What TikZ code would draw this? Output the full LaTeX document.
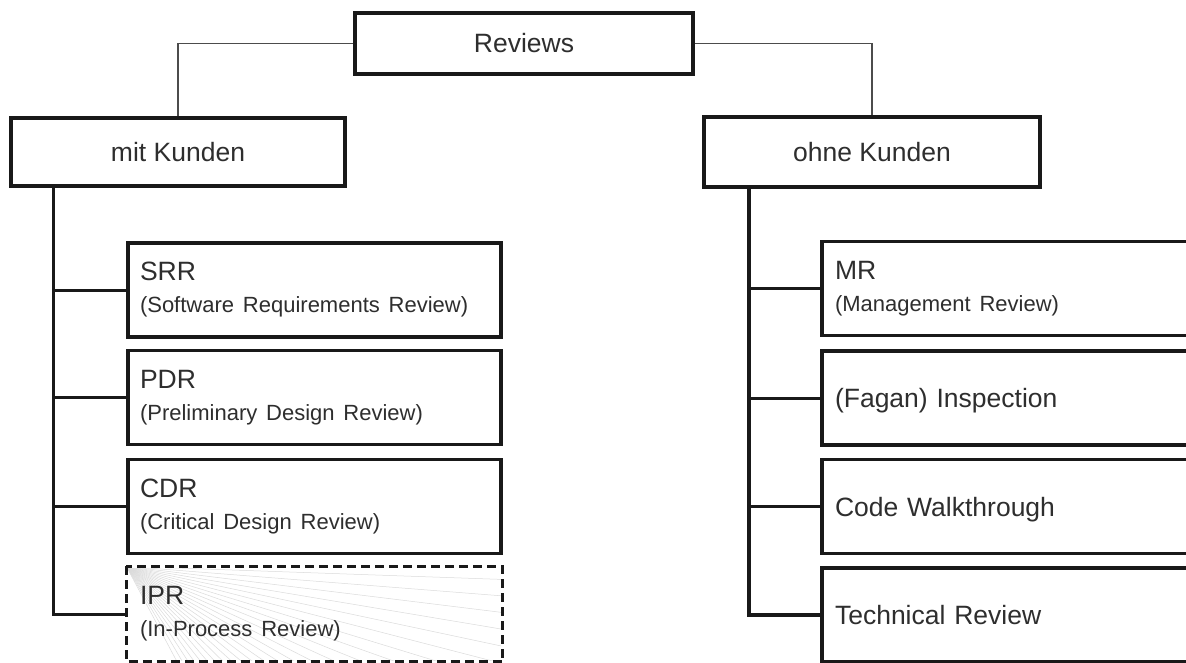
\documentclass[tikz,border=0pt]{standalone}
\usepackage{fontspec}
\setmainfont{Liberation Sans}
\newcommand\rvsub{\fontsize{22}{32}\selectfont}
\begin{document}
\begin{tikzpicture}[x=1pt,y=-1pt,
  box/.style={draw=black!90, line width=3.4pt, fill=white, inner sep=0pt, text=black!82,
              font=\fontsize{26.5}{32}\selectfont},
  leftbox/.style={box, minimum width=373pt, minimum height=94pt, text width=349pt, align=left},
  rightbox/.style={box, minimum width=408pt, minimum height=94pt, text width=382pt, align=left},
  oneline/.style={text height=19pt, text depth=0pt},
  topline/.style={draw=black!70, line width=1.4pt},
  trunkL/.style={draw=black!90, line width=3pt},
  trunkR/.style={draw=black!90, line width=3.8pt},
  branch/.style={draw=black!90, line width=3pt}]
\clip (0,0) rectangle (1186,663);
\fill[white] (0,0) rectangle (1186,663);

\node[box, minimum width=338pt, minimum height=61pt, oneline] (rev) at (524,43.5) {Reviews};
\node[box, minimum width=334pt, minimum height=68pt, oneline] (mit) at (178,152) {mit Kunden};
\node[box, minimum width=336pt, minimum height=70pt, oneline] (ohne) at (872,152) {ohne Kunden};

% connectors from the root
\draw[topline] (rev.west) -| (mit.north);
\draw[topline] (rev.east) -| (ohne.north);

\node[leftbox] (srr) at (314.5,290) {SRR\\{\rvsub (Software Requirements Review)}};
\node[leftbox] (pdr) at (314.5,397.5) {PDR\\{\rvsub (Preliminary Design Review)}};
\node[leftbox] (cdr) at (314.5,506.5) {CDR\\{\rvsub (Critical Design Review)}};
\node[leftbox, draw=none, minimum height=92pt] (ipr) at (314.5,614) {\phantom{IPR}\\{\rvsub\phantom{(In-Process Review)}}};

% fan of thin lines inside IPR
\begin{scope}
  \clip ([xshift=1.7pt,yshift=-1.7pt]ipr.north west) rectangle ([xshift=-1.7pt,yshift=1.7pt]ipr.south east);
  \foreach \a in {2,4.5,...,62}
    \draw[black!14, line width=0.5pt] (ipr.north west) -- ++({430*cos(\a)},{430*sin(\a)});
\end{scope}
\draw[black!90, line width=3.2pt, dash pattern=on 9pt off 5pt] (ipr.north west) rectangle (ipr.south east);
\node[leftbox, draw=none, fill=none] (iprt) at (ipr.center) {IPR\\{\rvsub (In-Process Review)}};

\node[rightbox] (mr) at (1026,288.5) {MR\\{\rvsub (Management Review)}};
\node[rightbox, oneline] (fag) at (1026,398) {(Fagan) Inspection};
\node[rightbox, oneline] (cw) at (1026,506.5) {Code Walkthrough};
\node[rightbox, oneline] (tr) at (1026,615) {Technical Review};

% left trunk
\coordinate (lt) at ([xshift=-125pt,yshift=1.7pt]mit.south);
\draw[trunkL] (lt) |- (ipr.west);
\draw[branch] (srr.west) -- (srr.west -| lt);
\draw[branch] (pdr.west) -- (pdr.west -| lt);
\draw[branch] (cdr.west) -- (cdr.west -| lt);

% right trunk
\coordinate (rt) at ([xshift=-123pt,yshift=1.7pt]ohne.south);
\draw[trunkR] (rt) |- (tr.west);
\draw[branch] (mr.west) -- (mr.west -| rt);
\draw[branch] (fag.west) -- (fag.west -| rt);
\draw[branch] (cw.west) -- (cw.west -| rt);
\end{tikzpicture}
\end{document}
